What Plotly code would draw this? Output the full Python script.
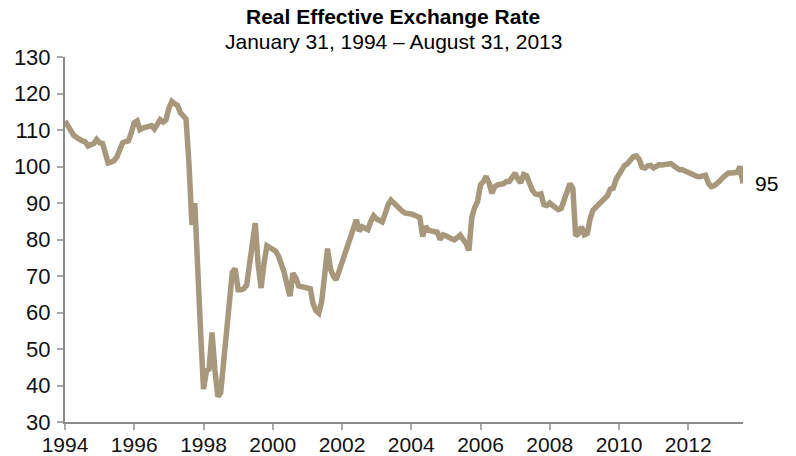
import pandas as pd
import plotly.graph_objects as go

# Monthly Real Effective Exchange Rate readings (month-start dates, Jan 1994 - Aug 2013)
v1994 = [112.5, 111.0, 109.8, 108.6, 108.0, 107.3, 107.0, 106.8, 105.6, 106.0, 106.3, 107.4]
v1995 = [106.5, 106.3, 103.5, 101.0, 101.2, 101.6, 102.5, 105.0, 106.5, 106.8, 107.0, 109.2]
v1996 = [112.0, 112.5, 110.1, 110.5, 110.8, 111.0, 111.2, 110.3, 111.8, 112.8, 112.2, 112.8]
v1997 = [116.0, 117.8, 117.2, 116.8, 114.8, 113.8, 113.0, 100.6, 84.0, 90.0, 75.5, 55.0]
v1998 = [39.0, 44.0, 44.5, 54.5, 44.3, 37.0, 38.0, 46.0, 53.0, 64.0, 71.0, 72.0]
v1999 = [66.2, 66.2, 66.5, 67.5, 72.5, 79.8, 84.5, 73.0, 66.7, 73.5, 78.3, 77.8]
v2000 = [77.4, 76.8, 75.5, 73.5, 71.0, 67.5, 64.5, 70.8, 69.5, 67.3, 67.1, 67.1]
v2001 = [67.0, 66.5, 62.5, 60.5, 59.8, 63.0, 70.0, 77.5, 72.0, 70.0, 69.0, 71.5]
v2002 = [73.2, 75.5, 77.8, 80.5, 83.0, 85.4, 82.3, 83.5, 83.2, 82.7, 85.0, 86.5]
v2003 = [85.6, 85.0, 84.8, 87.0, 89.5, 90.8, 90.0, 89.2, 88.0, 87.7, 87.2, 87.2]
v2004 = [87.0, 86.7, 86.3, 86.0, 80.8, 83.6, 82.5, 82.2, 82.2, 82.0, 80.0, 81.3]
v2005 = [81.0, 80.4, 80.2, 79.9, 80.5, 81.2, 80.0, 79.0, 77.0, 86.0, 88.8, 90.4]
v2006 = [95.0, 95.9, 97.3, 95.5, 92.7, 94.5, 95.0, 95.1, 95.3, 95.9, 95.9, 97.0]
v2007 = [98.2, 96.5, 95.5, 97.8, 97.5, 95.5, 93.5, 92.5, 92.3, 92.5, 89.5, 89.3]
v2008 = [90.0, 89.3, 88.8, 88.2, 88.5, 91.0, 93.5, 95.3, 94.0, 81.0, 81.7, 83.5]
v2009 = [81.3, 81.7, 85.5, 88.0, 88.8, 89.6, 90.4, 91.2, 92.0, 93.8, 94.1, 96.5]
v2010 = [97.7, 99.0, 100.3, 100.8, 101.8, 102.7, 102.9, 102.0, 99.8, 99.6, 100.2, 100.3]
v2011 = [99.6, 100.1, 100.5, 100.4, 100.6, 100.9, 100.8, 100.2, 99.6, 99.1, 99.1, 98.7]
v2012 = [98.2, 98.0, 97.6, 97.3, 97.2, 97.4, 97.6, 95.4, 94.5, 94.7, 95.2, 96.1]
v2013 = [97.0, 97.8, 98.2, 98.2, 98.3, 98.4, 100.0, 95.4]

values = (v1994 + v1995 + v1996 + v1997 + v1998 + v1999 + v2000 + v2001 + v2002
          + v2003 + v2004 + v2005 + v2006 + v2007 + v2008 + v2009 + v2010 + v2011
          + v2012 + v2013)
dates = pd.date_range("1994-01-01", periods=len(values), freq="MS")

title_text = "<b>Real Effective Exchange Rate</b>"
subtitle_text = "January 31, 1994 \u2013 August 31, 2013"
y_ticks = [30, 40, 50, 60, 70, 80, 90, 100, 110, 120, 130]

LINE = "#a8987b"
AXIS = "#8a8a8a"
FONT = "Liberation Sans, Arial, sans-serif"

fig = go.Figure()
fig.add_trace(go.Scatter(x=dates, y=values, mode="lines",
                         line=dict(color=LINE, width=5.5), hoverinfo="skip"))

fig.update_layout(
    width=796, height=456,
    margin=dict(l=65, r=53, t=57, b=34, autoexpand=False),
    paper_bgcolor="white", plot_bgcolor="white",
    showlegend=False,
    font=dict(family=FONT, size=21, color="#111111"),
    xaxis=dict(
        type="date", range=["1994-01-01", "2013-08-01"],
        tick0="1994-01-01", dtick="M24", tickformat="%Y",
        showgrid=False, zeroline=False, automargin=False,
        showline=True, linecolor=AXIS, linewidth=2,
        ticks="outside", ticklen=6, tickwidth=2, tickcolor="#aaaaaa",
        ticklabelstandoff=-3,
        tickfont=dict(size=21, family=FONT, color="#111111"),
    ),
    yaxis=dict(
        range=[30, 130], tickvals=y_ticks,
        showgrid=False, zeroline=False, automargin=False,
        showline=True, linecolor=AXIS, linewidth=2,
        ticks="outside", ticklen=6, tickwidth=2, tickcolor="#aaaaaa",
        ticklabelstandoff=2,
        tickfont=dict(size=22, family=FONT, color="#111111"),
    ),
    annotations=[
        dict(text=title_text, xref="paper", yref="paper", x=0.4838, y=1.1096,
             xanchor="center", yanchor="middle", showarrow=False,
             font=dict(size=21, family=FONT, color="#000000")),
        dict(text=subtitle_text, xref="paper", yref="paper", x=0.4838, y=1.0438,
             xanchor="center", yanchor="middle", showarrow=False,
             font=dict(size=21, family=FONT, color="#000000")),
        dict(text=f"{values[-1]:.0f}", x=dates[-1], y=values[-1], xref="x", yref="y",
             xanchor="left", yanchor="middle", xshift=10, showarrow=False,
             font=dict(size=21, family=FONT, color="#000000")),
    ],
)

fig.write_html("out.html")
